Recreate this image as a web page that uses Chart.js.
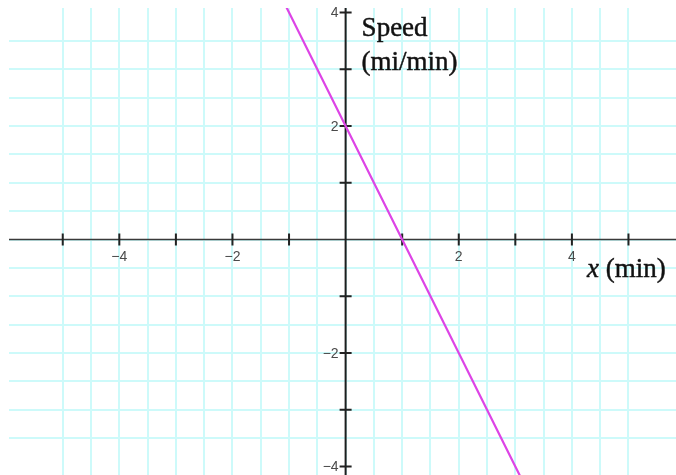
<!DOCTYPE html>
<html>
<head>
<meta charset="utf-8">
<script src="https://cdn.jsdelivr.net/npm/chart.js@4/dist/chart.umd.min.js"></script>
<style>
  html, body { margin: 0; padding: 0; background: #ffffff; }
  #wrap { width: 676px; height: 475px; position: relative; }
</style>
</head>
<body>
<div id="wrap"><canvas id="chart"></canvas></div>
<script>
// Speed of the object (mi/min) against time x (min)
const timeMin = [-1.5, -1, 0, 1, 2, 3, 3.5];
const speedMiPerMin = [5, 4, 2, 0, -2, -4, -5];

// Axis tick positions and the labelled subset
const xTickValues = [-5, -4, -3, -2, -1, 1, 2, 3, 4, 5];
const yTickValues = [-4, -3, -2, -1, 1, 2, 3, 4];
const xTickLabels = [-4, -2, 2, 4];
const yTickLabels = [-4, -2, 2, 4];

const xTitle = ['x', ' (min)'];
const yTitle = ['Speed', '(mi/min)'];

const minus = v => (v < 0 ? '\u2212' + Math.abs(v) : String(v));

// Keep only half-unit grid lines (drop the bound ticks added at min/max)
const halfSteps = scale => {
  scale.ticks = scale.ticks.filter(t => Math.abs(t.value * 2 - Math.round(t.value * 2)) < 1e-9);
};

// Serif text drawn slightly heavier
const boldText = (ctx, s, x, y) => {
  ctx.fillText(s, x, y);
  ctx.strokeText(s, x, y);
};

const crossAxes = {
  id: 'crossAxes',
  beforeDatasetsDraw(chart) {
    const { ctx, chartArea: a, scales: { x, y } } = chart;
    const x0 = x.getPixelForValue(0);
    const y0 = y.getPixelForValue(0);
    ctx.save();
    // horizontal axis
    ctx.strokeStyle = '#3a3a3a';
    ctx.lineWidth = 1.6;
    ctx.beginPath();
    ctx.moveTo(a.left, y0);
    ctx.lineTo(a.right, y0);
    ctx.stroke();
    // vertical axis
    ctx.strokeStyle = '#1e1e1e';
    ctx.lineWidth = 2;
    ctx.beginPath();
    ctx.moveTo(x0, a.top);
    ctx.lineTo(x0, a.bottom);
    ctx.stroke();
    // tick marks
    ctx.lineWidth = 2;
    ctx.strokeStyle = '#222';
    ctx.beginPath();
    xTickValues.forEach(v => {
      const px = x.getPixelForValue(v);
      ctx.moveTo(px, y0 - 6);
      ctx.lineTo(px, y0 + 6);
    });
    yTickValues.forEach(v => {
      const py = y.getPixelForValue(v);
      ctx.moveTo(x0 - 6, py);
      ctx.lineTo(x0 + 6, py);
    });
    ctx.stroke();
    ctx.restore();
  },
  afterDatasetsDraw(chart) {
    const { ctx, scales: { x, y } } = chart;
    const x0 = x.getPixelForValue(0);
    const y0 = y.getPixelForValue(0);
    ctx.save();
    ctx.fillStyle = '#4a4a4a';
    ctx.font = '14px "Liberation Sans", Arial, sans-serif';
    ctx.textAlign = 'center';
    ctx.textBaseline = 'top';
    xTickLabels.forEach(v => {
      ctx.fillText(minus(v), x.getPixelForValue(v), y0 + 11);
    });
    ctx.textAlign = 'right';
    ctx.textBaseline = 'middle';
    yTickLabels.forEach(v => {
      ctx.fillText(minus(v), x0 - 7, y.getPixelForValue(v) + 1);
    });

    // axis titles
    ctx.fillStyle = '#111';
    ctx.strokeStyle = '#111';
    ctx.lineWidth = 0.45;
    ctx.textAlign = 'left';
    ctx.textBaseline = 'alphabetic';
    ctx.font = '27px "Liberation Serif", "Times New Roman", serif';
    boldText(ctx, yTitle[0], x0 + 16, 36);
    boldText(ctx, yTitle[1], x0 + 16, 70);

    let tx = 587;
    ctx.font = 'italic 27px "Liberation Serif", "Times New Roman", serif';
    boldText(ctx, xTitle[0], tx, y0 + 37);
    tx += ctx.measureText(xTitle[0]).width;
    ctx.font = '27px "Liberation Serif", "Times New Roman", serif';
    boldText(ctx, xTitle[1], tx, y0 + 37);
    ctx.restore();
  }
};

new Chart(document.getElementById('chart'), {
  type: 'line',
  data: {
    datasets: [{
      data: timeMin.map((t, i) => ({ x: t, y: speedMiPerMin[i] })),
      borderColor: '#dd44e6',
      borderWidth: 2.2,
      pointRadius: 0,
      fill: false,
      tension: 0,
      clip: 0
    }]
  },
  options: {
    responsive: true,
    maintainAspectRatio: false,
    animation: false,
    layout: { padding: { left: 9, top: 8, right: 0, bottom: 0 } },
    plugins: { legend: { display: false }, tooltip: { enabled: false } },
    scales: {
      x: {
        type: 'linear',
        min: -5.95,
        max: 5.84,
        ticks: { display: false, stepSize: 0.5 },
        afterBuildTicks: halfSteps,
        grid: { color: '#cdfafa', lineWidth: 2, drawTicks: false },
        border: { display: false }
      },
      y: {
        type: 'linear',
        min: -4.15,
        max: 4.08,
        ticks: { display: false, stepSize: 0.5 },
        afterBuildTicks: halfSteps,
        grid: { color: '#cdfafa', lineWidth: 2, drawTicks: false },
        border: { display: false }
      }
    }
  },
  plugins: [crossAxes]
});
</script>
</body>
</html>
